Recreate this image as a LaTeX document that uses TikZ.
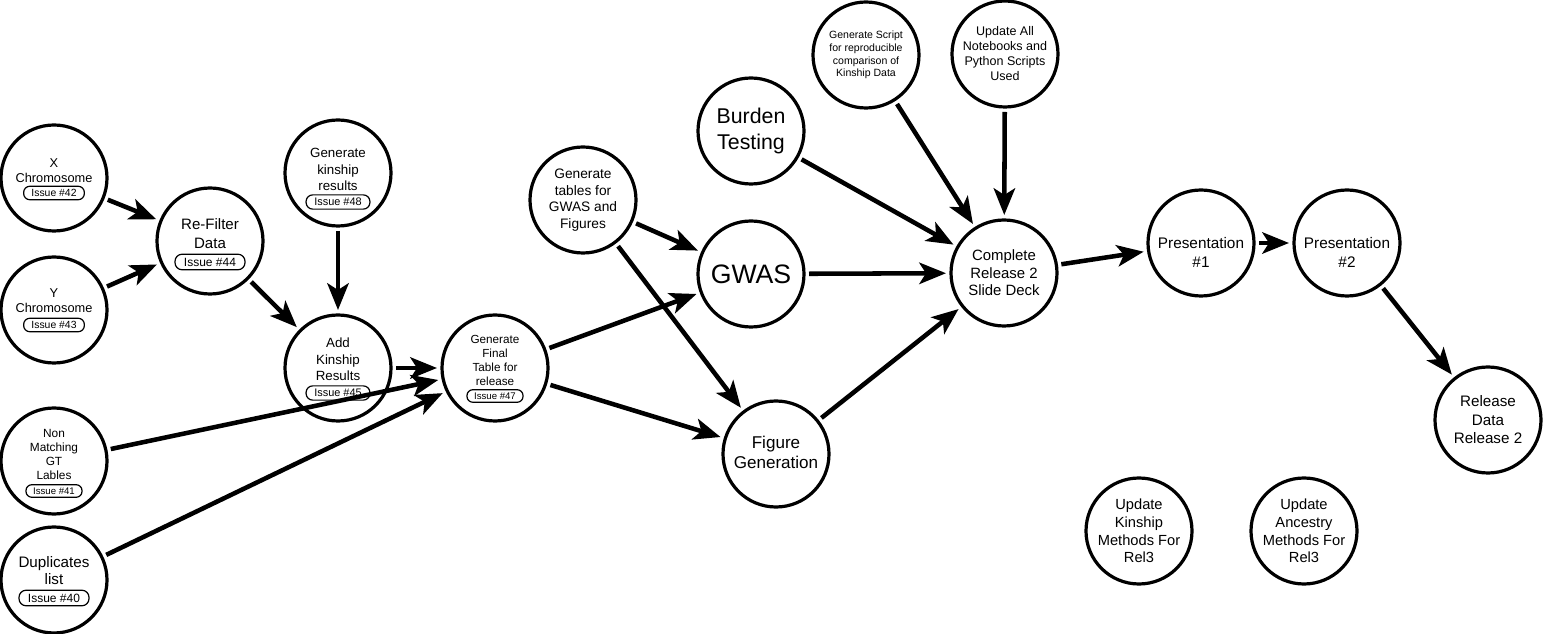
\documentclass[tikz,border=0pt]{standalone}
\usepackage{fontspec}
\setmainfont{Liberation Sans}
\usetikzlibrary{arrows.meta}

\tikzset{
    task/.style={circle, draw, line width=2.4pt, minimum size=79.5pt, inner sep=0pt, outer sep=3.75pt, align=center},
    fs/.style 2 args={font=\fontsize{#1}{#2}\selectfont, align=center, inner sep=0pt},
    issue/.style={draw, line width=0.9pt, rounded corners={0.6*#1pt}, inner ysep=0pt, inner xsep={0.75*#1pt}, minimum height={1.3*#1pt}, font=\fontsize{#1}{#1}\selectfont},
    flow/.style={line width=3.4pt, -{Stealth[length=20pt, width=16pt, inset=5pt]}},
}

\begin{document}
\begin{tikzpicture}[x=0.75pt, y=-0.75pt]
    \useasboundingbox (0,0) rectangle (1543,634);

    % input data
    \node[task] (xchr) at (54,178) {};
    \node[fs={9.6}{11.25}] (xchrT) at (54,170.5) {X\\Chromosome};
    \node[issue=7.8] (xchrI) at (54,193) {Issue \#42};
    \node[task] (ychr) at (54,310) {};
    \node[fs={9.6}{11.25}] (ychrT) at (54,301) {Y\\Chromosome};
    \node[issue=7.8] (ychrI) at (54,325) {Issue \#43};
    \node[task] (nonmatch) at (54,461) {};
    \node[fs={8.9}{10.7}] (nonmatchT) at (54,454.5) {Non\\Matching\\GT\\Lables};
    \node[issue=7.2] (nonmatchI) at (54,491) {Issue \#41};
    \node[task] (dupl) at (54,580) {};
    \node[fs={11.4}{12.75}] (duplT) at (54,570.5) {Duplicates\\list};
    \node[issue=9] (duplI) at (54,598) {Issue \#40};

    \node[task] (refilter) at (210,241) {};
    \node[fs={11.3}{14.25}] (refilterT) at (210,233.5) {Re-Filter\\Data};
    \node[issue=9] (refilterI) at (210,262) {Issue \#44};
    \node[task] (genkin) at (338,173) {};
    \node[fs={10}{12.4}] (genkinT) at (338,169.5) {Generate\\kinship\\results};
    \node[issue=8.2] (genkinI) at (338,202) {Issue \#48};
    \node[task] (addkin) at (338,368) {};
    \node[fs={10}{12.4}] (addkinT) at (338,359.5) {Add\\Kinship\\Results};
    \node[issue=8.2] (addkinI) at (338,393) {Issue \#45};
    \node[task] (genfinal) at (495,368) {};
    \node[fs={8.8}{10.7}] (genfinalT) at (495,360.5) {Generate\\Final\\Table for\\release};
    \node[issue=7.2] (genfinalI) at (495,396) {Issue \#47};

    % analysis
    \node[task, fs={10.3}{12.5}] (gentables) at (583,200) {Generate\\tables for\\GWAS and\\Figures};
    \node[task, fs={20}{24}] (gwas) at (751,274) {GWAS};
    \node[task, fs={16}{19.5}] (burden) at (751,131) {Burden\\Testing};
    \node[task] (figgen) at (776,454) {};
    \node[fs={12.8}{15}] (figgenT) at (776,452) {Figure\\Generation};
    \node[task, fs={7.9}{9.5}] (genscript) at (866,55) {Generate Script\\for reproducible\\comparison of\\Kinship Data};
    \node[task, fs={9.4}{11.25}] (updall) at (1005,54) {Update All\\Notebooks and\\Python Scripts\\Used};
    \node[task, fs={11.2}{13.1}] (complete) at (1004,273) {Complete\\Release 2\\Slide Deck};

    % release
    \node[task] (pres1) at (1201,243) {};
    \node[fs={11.5}{14.25}] (pres1T) at (1201,252) {Presentation\\\#1};
    \node[task] (pres2) at (1347,243) {};
    \node[fs={11.5}{14.25}] (pres2T) at (1347,252) {Presentation\\\#2};
    \node[task, fs={11.4}{13.9}] (reldata) at (1488,420) {Release\\Data\\Release 2};
    \node[task, fs={11}{13.3}] (updkin) at (1139,531) {Update\\Kinship\\Methods For\\Rel3};
    \node[task, fs={11}{13.3}] (updanc) at (1304,531) {Update\\Ancestry\\Methods For\\Rel3};

    \draw[flow] (xchr) -- (refilter);
    \draw[flow] (ychr) -- (refilter);
    \draw[flow] (refilter) -- (addkin);
    \draw[flow] (genkin) -- (addkin);
    \draw[flow] (addkin) -- (genfinal);
    \draw[flow] (nonmatch) -- (genfinal);
    \draw[flow] (dupl) -- (genfinal);
    \draw[flow] (genfinal) -- (gwas);
    \draw[flow] (genfinal) -- (figgen);
    \draw[flow] (gentables) -- (gwas);
    \draw[flow] (gentables) -- (figgen);
    \draw[flow] (burden) -- (complete);
    \draw[flow] (genscript) -- (complete);
    \draw[flow] (updall) -- (complete);
    \draw[flow] (gwas) -- (complete);
    \draw[flow] (figgen) -- (complete);
    \draw[flow] (complete) -- (pres1);
    \draw[flow] (pres1) -- (pres2);
    \draw[flow] (pres2) -- (reldata);
\end{tikzpicture}
\end{document}
